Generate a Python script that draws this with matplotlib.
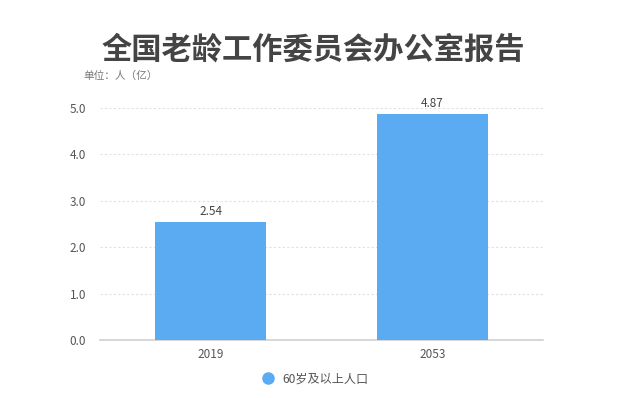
import matplotlib
matplotlib.use("Agg")
import matplotlib.pyplot as plt
from matplotlib.lines import Line2D

plt.rcParams['font.family'] = ['Noto Sans CJK SC', 'DejaVu Sans']

categories = ["2019", "2053"]
values = [2.54, 4.87]
yticks = [0.0, 1.0, 2.0, 3.0, 4.0, 5.0]
series_name = "60岁及以上人口"
title = "全国老龄工作委员会办公室报告"
unit = "单位：人（亿）"

bar_color = "#5aabf2"

fig = plt.figure(figsize=(6.19, 3.98), dpi=100)
W, H = 619, 398
ax = fig.add_axes([100 / W, 1 - 340 / H, 443 / W, (340 - 108) / H])

x = list(range(len(categories)))
ax.bar(x, values, width=0.5, color=bar_color, zorder=3)
for xi, v in zip(x, values):
    ax.text(xi, v + 0.08, f"{v:.2f}", ha="center", va="bottom", fontsize=8.5, color="#444444")

ax.set_xlim(-0.5, 1.5)
ax.set_ylim(0, 5.0)
ax.set_yticks(yticks)
ax.set_yticklabels([f"{t:.1f}" for t in yticks])
ax.set_xticks(x)
ax.set_xticklabels(categories)
ax.tick_params(axis="both", length=0, labelsize=8.5, labelcolor="#555555")
ax.tick_params(axis="y", pad=10)
ax.tick_params(axis="x", pad=6)

for s in ["top", "right", "left"]:
    ax.spines[s].set_visible(False)
ax.spines["bottom"].set_color("#d0d0d0")
ax.spines["bottom"].set_linewidth(1.2)

for t in yticks[1:]:
    ax.axhline(t, color="#e0e0e0", linestyle=(0, (2, 2)), linewidth=0.8, zorder=1, clip_on=False)

fig.text(313 / W, 1 - 50 / H, title, ha="center", va="center", fontsize=21.8,
         fontweight="heavy", color="#444444")
fig.text(83 / W, 1 - 76 / H, unit, ha="left", va="center", fontsize=7.7, color="#777777")

handle = Line2D([0], [0], marker="o", color="w", markerfacecolor=bar_color,
                markeredgecolor=bar_color, markersize=8)
fig.legend([handle], [series_name], loc="center", bbox_to_anchor=(312 / W, 1 - 379 / H),
           frameon=False, fontsize=8.7, handletextpad=0.2, labelcolor="#555555")

fig.savefig("out.png", dpi=100)
